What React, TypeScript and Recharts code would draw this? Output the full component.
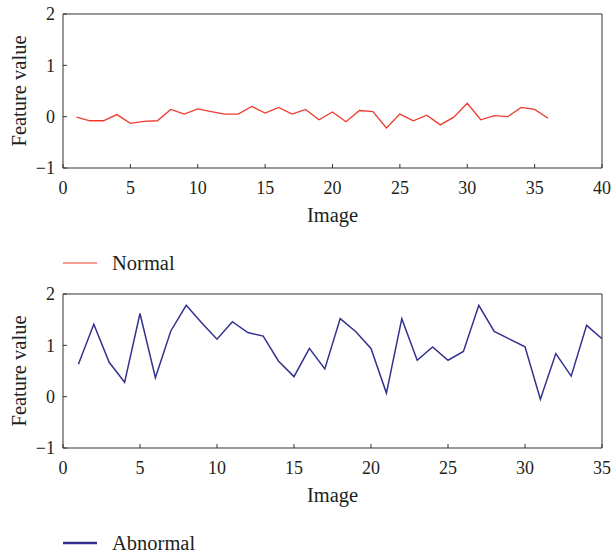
import React from 'react';
import { LineChart, Line, XAxis, YAxis, Legend, Label } from 'recharts';

const normalImages = [1, 2, 3, 4, 5, 6, 7, 8, 9, 10, 11, 12, 13, 14, 15, 16, 17, 18, 19, 20, 21, 22, 23, 24, 25, 26, 27, 28, 29, 30, 31, 32, 33, 34, 35, 36];
const normalValues = [-0.01, -0.08, -0.08, 0.04, -0.13, -0.09, -0.08, 0.14, 0.05, 0.15, 0.1, 0.05, 0.05, 0.2, 0.07, 0.18, 0.05, 0.14, -0.06, 0.09, -0.1, 0.12, 0.1, -0.22, 0.05, -0.08, 0.03, -0.16, -0.01, 0.26, -0.06, 0.02, 0.0, 0.18, 0.14, -0.03];

const abnormalImages = [1, 2, 3, 4, 5, 6, 7, 8, 9, 10, 11, 12, 13, 14, 15, 16, 17, 18, 19, 20, 21, 22, 23, 24, 25, 26, 27, 28, 29, 30, 31, 32, 33, 34, 35];
const abnormalValues = [0.63, 1.41, 0.67, 0.28, 1.62, 0.37, 1.28, 1.78, 1.44, 1.12, 1.46, 1.25, 1.18, 0.69, 0.39, 0.94, 0.54, 1.52, 1.27, 0.94, 0.07, 1.52, 0.71, 0.97, 0.71, 0.88, 1.78, 1.27, 1.12, 0.97, -0.05, 0.84, 0.4, 1.39, 1.13];

const normalXTicks = [0, 5, 10, 15, 20, 25, 30, 35, 40];
const abnormalXTicks = [0, 5, 10, 15, 20, 25, 30, 35];
const yTicks = [-1, 0, 1, 2];

const seriesNames = ['Normal', 'Abnormal'];
const seriesColors = ['#ee3a2c', '#35318f'];

const FONT = '"Liberation Serif", "Times New Roman", serif';
const AXIS = '#333';
const TEXT = '#231f20';

const normalData = normalImages.map((x, i) => ({ x, v: normalValues[i] }));
const abnormalData = abnormalImages.map((x, i) => ({ x, v: abnormalValues[i] }));

const fmt = (v: number) => String(v).replace('-', '\u2212');

const YLabel = (props: any) => {
  const vb = props.viewBox || { x: 0, y: 14, width: 63, height: 154 };
  const cx = 19;
  const cy = vb.y + vb.height / 2;
  return (
    <text x={cx} y={cy} transform={`rotate(-90 ${cx} ${cy})`} textAnchor="middle" dominantBaseline="central"
      fill={TEXT} fontFamily={FONT} fontSize={20.5}>Feature value</text>
  );
};

const XLabel = (props: any) => {
  const vb = props.viewBox || { x: 63, y: 168, width: 540, height: 60 };
  return (
    <text x={vb.x + vb.width / 2} y={vb.y + 54} textAnchor="middle" fill={TEXT} fontFamily={FONT} fontSize={20.5}>Image</text>
  );
};

const makeLegend = (name: string, color: string, w: number) => () => (
  <div style={{ display: 'flex', alignItems: 'center', fontFamily: FONT, fontSize: 20.5, color: TEXT, lineHeight: '24px', whiteSpace: 'nowrap' }}>
    <svg width={34} height={4} style={{ display: 'block' }}>
      <line x1={0} y1={2} x2={34} y2={2} stroke={color} strokeWidth={w} />
    </svg>
    <span style={{ marginLeft: 15 }}>{name}</span>
  </div>
);

const Panel = ({ data, xTicks, height, name, color, lineW, legendW }: any) => {
  const xMax = xTicks[xTicks.length - 1];
  const tickStyle = { fill: TEXT, fontSize: 18, fontFamily: FONT };
  return (
    <LineChart width={613} height={height} data={data} margin={{ top: 13, right: 10, left: 0, bottom: height - 168 - 60 }}>
      <XAxis xAxisId="b" dataKey="x" type="number" domain={[0, xMax]} ticks={xTicks} interval={0}
        tickSize={-4} tickMargin={17} height={60} stroke={AXIS} tick={tickStyle} allowDataOverflow>
        <Label content={<XLabel />} />
      </XAxis>
      <XAxis xAxisId="t" orientation="top" dataKey="x" type="number" domain={[0, xMax]} ticks={xTicks} interval={0}
        tickSize={-4} height={1} stroke={AXIS} tick={false} allowDataOverflow />
      <YAxis yAxisId="l" type="number" domain={[-1, 2]} ticks={yTicks} interval={0} tickFormatter={fmt}
        tickSize={-4} tickMargin={12} width={63} stroke={AXIS} tick={tickStyle} allowDataOverflow>
        <Label content={<YLabel />} />
      </YAxis>
      <YAxis yAxisId="r" orientation="right" type="number" domain={[-1, 2]} ticks={yTicks} interval={0}
        tickSize={-4} width={1} stroke={AXIS} tick={false} allowDataOverflow />
      <Legend layout="vertical" verticalAlign="middle" align="center" content={makeLegend(name, color, legendW)}
        wrapperStyle={{ left: 63, top: 251, width: 'auto' }} />
      <Line xAxisId="b" yAxisId="l" type="linear" dataKey="v" name={name} stroke={color} strokeWidth={lineW}
        dot={false} activeDot={false} isAnimationActive={false} />
    </LineChart>
  );
};

export default function App() {
  return (
    <div style={{ position: 'absolute', left: 0, top: 0, width: 613, height: 554, background: '#fff' }}>
      <div style={{ position: 'absolute', left: 0, top: 0 }}>
        <Panel data={normalData} xTicks={normalXTicks} height={280} name={seriesNames[0]} color={seriesColors[0]} lineW={1.3} legendW={1} />
      </div>
      <div style={{ position: 'absolute', left: 0, top: 280 }}>
        <Panel data={abnormalData} xTicks={abnormalXTicks} height={274} name={seriesNames[1]} color={seriesColors[1]} lineW={1.5} legendW={2.5} />
      </div>
    </div>
  );
}
